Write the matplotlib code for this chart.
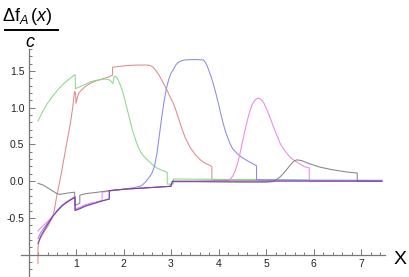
import matplotlib
matplotlib.use("Agg")
import matplotlib.pyplot as plt
from matplotlib.lines import Line2D

plt.rcParams['font.family'] = ['Liberation Sans', 'DejaVu Sans']
plt.rcParams['mathtext.fontset'] = 'custom'
plt.rcParams['mathtext.rm'] = 'Liberation Sans'
plt.rcParams['mathtext.it'] = 'Liberation Sans:italic'

# curves (x, y), repeated x = jump
red_x = [0.2, 0.2, 0.22, 0.3, 0.4, 0.5, 0.55, 0.6, 0.66, 0.73, 0.8, 0.88, 0.93, 0.97, 0.99, 1.0, 1.03, 1.06,
         1.1, 1.2, 1.3, 1.4, 1.5, 1.6, 1.7, 1.77, 1.77, 1.9, 2.1, 2.3, 2.5, 2.55, 2.6, 2.65, 2.7, 2.75,
         2.8, 2.85, 2.9, 2.95, 3.0, 3.05, 3.1, 3.15, 3.2, 3.26, 3.3, 3.4, 3.5, 3.6, 3.7, 3.8, 3.86, 3.86,
         5.0, 6.0, 7.44]
red_y = [-1.12, -0.9, -0.82, -0.72, -0.62, -0.5, -0.37, -0.18, 0.0, 0.25, 0.5, 0.78, 1.0, 1.22, 1.2, 1.06, 1.14, 1.2,
         1.23, 1.29, 1.33, 1.36, 1.38, 1.4, 1.42, 1.445, 1.55, 1.56, 1.575, 1.58, 1.58, 1.575, 1.56, 1.53, 1.49, 1.44,
         1.38, 1.32, 1.26, 1.19, 1.12, 1.06, 0.97, 0.87, 0.77, 0.66, 0.59, 0.46, 0.37, 0.3, 0.25, 0.22, 0.2, 0.02,
         0.015, 0.01, 0.01]

green_x = [0.2, 0.3, 0.4, 0.5, 0.6, 0.7, 0.8, 0.9, 0.98, 0.99, 1.1, 1.2, 1.3, 1.4, 1.5, 1.6, 1.7, 1.78, 1.8,
           1.82, 1.86, 1.9, 1.95, 2.0, 2.05, 2.1, 2.15, 2.2, 2.25, 2.3, 2.35, 2.4, 2.5, 2.6, 2.7, 2.8, 2.92,
           2.92, 3.05, 3.05, 4.0, 5.0, 6.0, 7.44]
green_y = [0.82, 0.95, 1.06, 1.15, 1.23, 1.3, 1.36, 1.41, 1.45, 1.26, 1.29, 1.32, 1.35, 1.37, 1.38, 1.39, 1.38, 1.33, 1.42,
           1.43, 1.41, 1.36, 1.28, 1.18, 1.05, 0.92, 0.79, 0.67, 0.57, 0.48, 0.41, 0.36, 0.29, 0.23, 0.18, 0.15, 0.12,
           -0.04, -0.04, 0.03, 0.025, 0.02, 0.015, 0.01]

blue_x = [0.2, 0.25, 0.3, 0.4, 0.5, 0.6, 0.7, 0.8, 0.9, 0.98, 0.98, 1.1, 1.2, 1.3, 1.4, 1.5, 1.6, 1.7, 1.7, 1.8,
          2.0, 2.2, 2.35, 2.4, 2.45, 2.5, 2.55, 2.6, 2.65, 2.7, 2.75, 2.8, 2.85, 2.9, 2.95, 3.0, 3.03, 3.06,
          3.1, 3.15, 3.2, 3.3, 3.5, 3.68, 3.72, 3.76, 3.8, 3.85, 3.9, 3.95, 4.0, 4.05, 4.1, 4.15, 4.2, 4.25,
          4.3, 4.4, 4.5, 4.6, 4.7, 4.8, 4.8, 6.0, 7.44]
blue_y = [-0.78, -0.71, -0.66, -0.57, -0.48, -0.4, -0.33, -0.28, -0.24, -0.21, -0.39, -0.36, -0.33, -0.31, -0.29, -0.27, -0.26, -0.24, -0.13, -0.125,
          -0.11, -0.09, -0.07, -0.05, -0.02, 0.02, 0.06, 0.11, 0.2, 0.36, 0.6, 0.85, 1.07, 1.25, 1.38, 1.47, 1.5, 1.53,
          1.58, 1.615, 1.635, 1.65, 1.655, 1.65, 1.62, 1.57, 1.5, 1.41, 1.3, 1.18, 1.05, 0.91, 0.78, 0.67, 0.58, 0.5,
          0.44, 0.37, 0.32, 0.28, 0.245, 0.21, 0.02, 0.01, 0.01]

magenta_x = [0.2, 0.25, 0.3, 0.4, 0.5, 0.6, 0.7, 0.8, 0.9, 0.98, 0.98, 1.1, 1.2, 1.3, 1.4, 1.55, 1.55, 1.7, 2.0,
             2.5, 3.0, 3.03, 3.5, 4.2, 4.25, 4.3, 4.35, 4.4, 4.45, 4.5, 4.55, 4.6, 4.65, 4.7, 4.75, 4.8, 4.85,
             4.9, 4.95, 5.0, 5.05, 5.1, 5.15, 5.2, 5.25, 5.3, 5.4, 5.5, 5.6, 5.7, 5.8, 5.91, 5.91, 7.44]
magenta_y = [-0.68, -0.64, -0.61, -0.55, -0.48, -0.41, -0.34, -0.29, -0.25, -0.22, -0.38, -0.35, -0.32, -0.3, -0.29, -0.27, -0.15, -0.135, -0.11,
             -0.09, -0.07, -0.01, -0.005, 0.01, 0.03, 0.07, 0.14, 0.24, 0.37, 0.52, 0.67, 0.81, 0.93, 1.03, 1.09, 1.12, 1.13,
             1.11, 1.07, 1.0, 0.92, 0.84, 0.75, 0.67, 0.59, 0.51, 0.41, 0.33, 0.28, 0.24, 0.2, 0.18, 0.0, 0.0]

gray_x = [0.2, 0.3, 0.4, 0.5, 0.6, 0.66, 0.75, 0.85, 0.97, 0.98, 1.08, 1.08, 1.2, 1.4, 1.57, 1.8, 2.0, 2.5,
          2.98, 3.03, 3.5, 4.0, 4.5, 5.0, 5.15, 5.22, 5.3, 5.4, 5.5, 5.58, 5.65, 5.75, 5.9, 6.14, 6.4,
          6.7, 6.92, 6.92, 7.44]
gray_y = [-0.03, -0.05, -0.09, -0.13, -0.17, -0.18, -0.17, -0.16, -0.15, -0.33, -0.3, -0.19, -0.17, -0.155, -0.14, -0.12, -0.11, -0.09,
          -0.07, -0.005, -0.008, -0.012, -0.015, -0.015, -0.005, 0.02, 0.06, 0.13, 0.21, 0.27, 0.29, 0.28, 0.24, 0.19, 0.155,
          0.125, 0.11, 0.0, 0.0]

purple_x = [0.2, 0.25, 0.3, 0.4, 0.5, 0.6, 0.7, 0.8, 0.9, 0.98, 0.98, 1.1, 1.2, 1.3, 1.4, 1.5, 1.6, 1.7, 1.7, 2.0,
            2.5, 3.0, 3.03, 4.0, 5.0, 6.0, 7.44]
purple_y = [-0.85, -0.76, -0.7, -0.59, -0.49, -0.41, -0.34, -0.29, -0.25, -0.22, -0.4, -0.37, -0.34, -0.32, -0.3, -0.28, -0.26, -0.245, -0.13, -0.11,
            -0.09, -0.07, 0.0, 0.0, 0.0, 0.0, 0.0]

x_major = [1, 2, 3, 4, 5, 6, 7]
y_major = [-0.5, 0.0, 0.5, 1.0, 1.5]
y_labels = ['-0.5', '0.0', '0.5', '1.0', '1.5']

fig = plt.figure(figsize=(4.09, 2.77), dpi=100)
ax = fig.add_axes([0, 0, 1, 1])
ax.set_xlim(-0.6, 8.01)
ax.set_ylim(-1.304, 2.465)

lw = 0.75
ax.plot(red_x, red_y, color='#e08a8a', lw=lw)
ax.plot(green_x, green_y, color='#8ad88a', lw=lw)
ax.plot(blue_x, blue_y, color='#8a8aee', lw=lw)
ax.plot(magenta_x, magenta_y, color='#e68ae6', lw=lw)
ax.plot(gray_x, gray_y, color='#858585', lw=lw)
ax.plot(purple_x, purple_y, color='#7a3aa8', lw=lw)

# Mathematica-like axes crossing at (0, -1)
for s in ['top', 'right']:
    ax.spines[s].set_visible(False)
ax.spines['left'].set_position(('data', 0))
ax.spines['bottom'].set_position(('data', -1.0))
ax.spines['left'].set_bounds(-1.31, 1.8)
ax.spines['bottom'].set_bounds(-0.16, 7.5)
for s in ['left', 'bottom']:
    ax.spines[s].set_color('#777777')
    ax.spines[s].set_linewidth(0.9)

ax.set_xticks(x_major)
ax.set_xticklabels([str(v) for v in x_major])
ax.set_xticks([i * 0.2 for i in range(1, 38) if i % 5 != 0], minor=True)
ax.set_yticks(y_major)
ax.set_yticklabels(y_labels)
ax.set_yticks([round(-1.3 + i * 0.1, 2) for i in range(32)
               if round(-1.3 + i * 0.1, 2) not in y_major], minor=True)
ax.tick_params(which='both', direction='in', color='#777777', labelsize=7.5,
               labelcolor='#222222', width=0.7)
ax.tick_params(which='major', length=4, pad=3)
ax.tick_params(which='minor', length=2.2)

fig.text(2 / 409, 1 - 21 / 277, r'$\Delta\mathrm{f}_{A}\,(x)$', fontsize=13, ha='left', va='baseline')
fig.add_artist(Line2D([5 / 409, 58 / 409], [1 - 30 / 277, 1 - 30 / 277], color='black', lw=1.4))
fig.text(30 / 409, 1 - 47 / 277, r'$c$', fontsize=13, ha='center', va='baseline')
fig.text(400 / 409, 1 - 264 / 277, 'X', fontsize=14, ha='center', va='baseline')

fig.savefig('out.png', dpi=100)
